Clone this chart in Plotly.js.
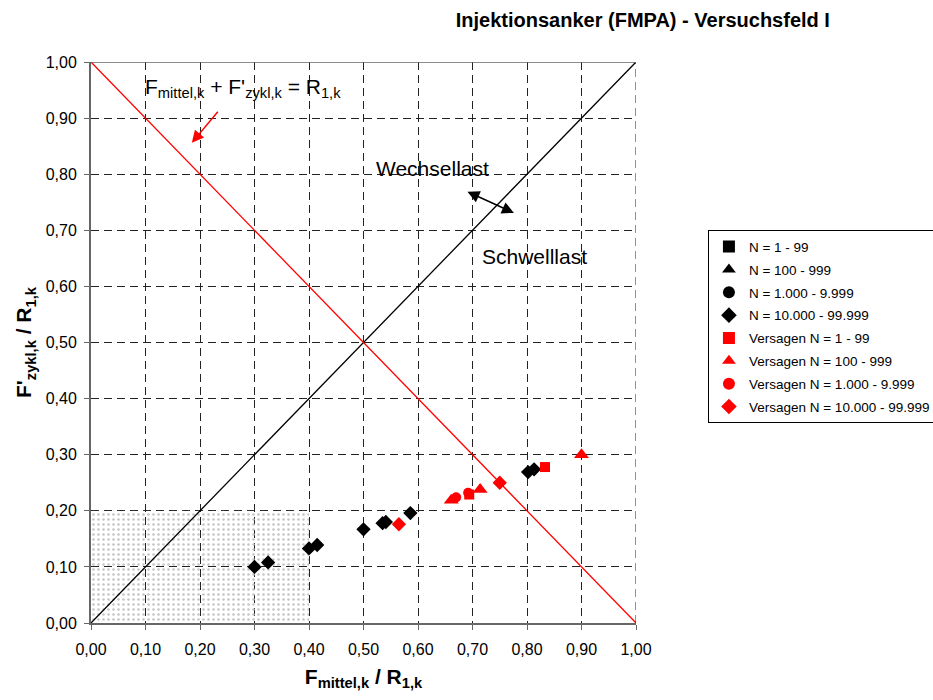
<!DOCTYPE html>
<html>
<head>
<meta charset="utf-8">
<script src="https://cdn.plot.ly/plotly-3.0.1.min.js"></script>
<style>body{margin:0;padding:0;background:#fff;} #chart{width:933px;height:700px;}</style>
</head>
<body>
<div id="chart"></div>
<script>
// Data (F_mittel,k / R_1,k , F'_zykl,k / R_1,k)
var blackDiamondX = [0.30, 0.325, 0.40, 0.415, 0.50, 0.535, 0.541, 0.586, 0.802, 0.813];
var blackDiamondY = [0.10, 0.108, 0.133, 0.139, 0.167, 0.178, 0.180, 0.196, 0.269, 0.274];
var redSquareX = [0.694, 0.833];
var redSquareY = [0.229, 0.278];
var redTriangleX = [0.661, 0.714, 0.900];
var redTriangleY = [0.219, 0.238, 0.300];
var redCircleX = [0.670, 0.692];
var redCircleY = [0.224, 0.232];
var redDiamondX = [0.565, 0.750];
var redDiamondY = [0.176, 0.250];

var legendNames = [
  "N = 1 - 99", "N = 100 - 999", "N = 1.000 - 9.999", "N = 10.000 - 99.999",
  "Versagen N = 1 - 99", "Versagen N = 100 - 999", "Versagen N = 1.000 - 9.999", "Versagen N = 10.000 - 99.999"
];
var zoneX = [0, 0.4, 0.4, 0, 0];
var zoneY = [0, 0, 0.2, 0.2, 0];
var limitX = [0, 1];
var limitY = [1, 0];
var diagX = [0, 1];
var diagY = [0, 1];

var traces = [
  {x: zoneX, y: zoneY, mode: 'none', fill: 'toself', fillcolor: 'rgba(0,0,0,0)',
   fillpattern: {shape: '.', fgcolor: '#c4c4c4', bgcolor: 'rgba(255,255,255,0)', size: 5, solidity: 0.2},
   showlegend: false, hoverinfo: 'skip'},
  {x: diagX, y: diagY, mode: 'lines', line: {color: 'black', width: 1.3}, showlegend: false, hoverinfo: 'skip'},
  {x: limitX, y: limitY, mode: 'lines', line: {color: '#ff0000', width: 1.3}, showlegend: false, hoverinfo: 'skip'},
  {x: [null], y: [null], mode: 'markers', name: legendNames[0], legendgroup: 'g0', marker: {symbol: 'square', color: 'black', size: 9}},
  {x: [null], y: [null], mode: 'markers', name: legendNames[1], legendgroup: 'g1', marker: {symbol: 'triangle-up', color: 'black', size: 11}},
  {x: [null], y: [null], mode: 'markers', name: legendNames[2], legendgroup: 'g2', marker: {symbol: 'circle', color: 'black', size: 10}},
  {x: blackDiamondX, y: blackDiamondY, mode: 'markers', name: legendNames[3], legendgroup: 'g3', marker: {symbol: 'diamond', color: 'black', size: 11}},
  {x: redSquareX, y: redSquareY, mode: 'markers', name: legendNames[4], legendgroup: 'g4', marker: {symbol: 'square', color: '#ff0000', size: 10}},
  {x: redTriangleX, y: redTriangleY, mode: 'markers', name: legendNames[5], legendgroup: 'g5', marker: {symbol: 'triangle-up', color: '#ff0000', size: 13}},
  {x: redCircleX, y: redCircleY, mode: 'markers', name: legendNames[6], legendgroup: 'g6', marker: {symbol: 'circle', color: '#ff0000', size: 10}},
  {x: redDiamondX, y: redDiamondY, mode: 'markers', name: legendNames[7], legendgroup: 'g7', marker: {symbol: 'diamond', color: '#ff0000', size: 11}}
];

var font = "'Liberation Sans', Arial, sans-serif";
var layout = {
  width: 933, height: 700,
  margin: {l: 91, r: 297, t: 62, b: 77, autoexpand: false},
  paper_bgcolor: 'white', plot_bgcolor: 'white',
  separators: ',.',
  font: {family: font, color: 'black', size: 16},
  title: {text: '<b>Injektionsanker (FMPA) - Versuchsfeld I</b>', font: {family: font, size: 20, color: 'black'},
          x: 0.689, xanchor: 'center', y: 0.971, yanchor: 'middle'},
  xaxis: {range: [0, 1], dtick: 0.1, tick0: 0, tickformat: '.2f', showgrid: true,
          gridcolor: '#222', griddash: '8px,5px', gridwidth: 1,
          showline: true, linecolor: '#666', linewidth: 2, mirror: false,
          ticks: 'outside', ticklen: 5, tickcolor: '#666', zeroline: false, ticklabelstandoff: 6,
          tickfont: {size: 16, family: font, color: 'black'},
          title: {text: '<b>F<sub>mittel,k</sub> / R<sub>1,k</sub></b>', font: {size: 21, family: font}, standoff: 12}},
  yaxis: {range: [0, 1], dtick: 0.1, tick0: 0, tickformat: '.2f', showgrid: true,
          gridcolor: '#222', griddash: '8px,5px', gridwidth: 1,
          showline: true, linecolor: '#666', linewidth: 2, mirror: false,
          ticks: 'outside', ticklen: 5, tickcolor: '#666', zeroline: false, ticklabelstandoff: 4,
          tickfont: {size: 16, family: font, color: 'black'},
          title: {text: "<b>F'<sub>zykl,k</sub> / R<sub>1,k</sub></b>", font: {size: 21, family: font}, standoff: 8}},
  legend: {x: 1.132, xanchor: 'left', y: 0.70, yanchor: 'top', bgcolor: 'white', bordercolor: 'black', borderwidth: 1,
           font: {size: 13.5, family: font}, tracegroupgap: 2.3, traceorder: 'grouped', itemsizing: 'constant', itemwidth: 30},
  showlegend: true,
  shapes: [
    {type: 'line', xref: 'x', yref: 'y', x0: 1, x1: 1, y0: 0, y1: 1, line: {color: '#222', width: 1, dash: '8px,5px'}},
    {type: 'line', xref: 'x', yref: 'y', x0: 0, x1: 1, y0: 1, y1: 1, line: {color: '#666', width: 1.5}}
  ],
  annotations: [
    {x: 0.095, y: 0.953, xref: 'x', yref: 'y', xanchor: 'left', yanchor: 'middle', showarrow: false,
     text: "F<sub>mittel,k</sub> + F'<sub>zykl,k</sub> = R<sub>1,k</sub>", font: {size: 21, family: font, color: 'black'}},
    {x: 0.185, y: 0.856, ax: 0.235, ay: 0.914, xref: 'x', yref: 'y', axref: 'x', ayref: 'y', text: '', showarrow: true,
     arrowhead: 2, arrowsize: 1.6, arrowwidth: 1.5, arrowcolor: '#ff0000'},
    {x: 0.626, y: 0.811, xref: 'x', yref: 'y', xanchor: 'center', yanchor: 'middle', showarrow: false,
     text: 'Wechsellast', font: {size: 21, family: font, color: 'black'}},
    {x: 0.813, y: 0.654, xref: 'x', yref: 'y', xanchor: 'center', yanchor: 'middle', showarrow: false,
     text: 'Schwelllast', font: {size: 21, family: font, color: 'black'}},
    {x: 0.776, y: 0.731, ax: 0.688, ay: 0.770, xref: 'x', yref: 'y', axref: 'x', ayref: 'y', text: '', showarrow: true,
     arrowhead: 2, startarrowhead: 2, arrowside: 'end+start', arrowsize: 1.6, startarrowsize: 1.6, arrowwidth: 1.5, arrowcolor: 'black'}
  ]
};
Plotly.newPlot('chart', traces, layout, {displayModeBar: false, staticPlot: true});
</script>
</body>
</html>
